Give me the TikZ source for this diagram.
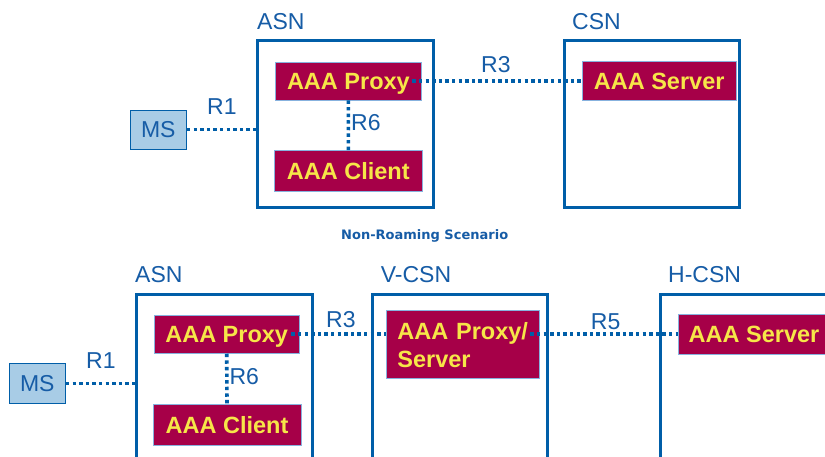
\documentclass[tikz,border=0pt]{standalone}
\usepackage{fontspec}
\setmainfont{Liberation Sans}
\newfontfamily\captionfont{DejaVu Sans}
\definecolor{netblue}{RGB}{0,94,168}
\definecolor{labelblue}{RGB}{22,92,166}
\definecolor{aaafill}{RGB}{166,0,72}
\definecolor{aaatext}{RGB}{246,230,72}
\definecolor{aaaedge}{RGB}{135,178,222}
\definecolor{msfill}{RGB}{168,204,230}
\tikzset{
  netbox/.style={draw=netblue, line width=3pt, fill=none, inner sep=0pt},
  aaabox/.style={draw=aaaedge, line width=0.8pt, fill=aaafill, text=aaatext,
    font=\fontsize{23.5}{28}\selectfont\bfseries, inner sep=0pt, text depth=0pt},
  msbox/.style={draw=netblue, line width=0.8pt, fill=msfill, text=labelblue,
    font=\fontsize{23}{27}\selectfont, inner sep=0pt, text depth=0pt},
  netlabel/.style={text=labelblue, font=\fontsize{23}{27}\selectfont, inner sep=0pt, anchor=base west},
  dotline/.style={draw=netblue, line width=3.6pt, dash pattern=on 3.4pt off 3.2pt},
}
\begin{document}
\begin{tikzpicture}[x=1pt,y=-1pt]
\useasboundingbox (0,0) rectangle (825,457);
\fill[white] (0,0) rectangle (825,457);
\clip (0,0) rectangle (825,457);

% ---------- non-roaming scenario ----------
\node[netbox, minimum width=176pt, minimum height=167pt] (asnT) at (345,124.5) {};
\node[netbox, minimum width=175pt, minimum height=167pt] (csnT) at (651.5,124.5) {};
\node[netlabel] (asnTlab) at (257,30) {ASN};
\node[netlabel] (csnTlab) at (572,30) {CSN};

\node[aaabox, minimum width=145.3pt, minimum height=37.7pt] (proxyT) at (348.4,81.2) {AAA Proxy};
\node[aaabox, minimum width=148pt, minimum height=41pt] (clientT) at (348.3,171.2) {AAA Client};
\node[aaabox, minimum width=153.7pt, minimum height=39.7pt] (serverT) at (659.2,80.9) {AAA Server};
\node[msbox, minimum width=56.7pt, minimum height=39pt] (msT) at (158.3,129.5) {MS};

\draw[dotline] (msT.east) -- (msT.east -| asnT.west);
\draw[dotline] (proxyT.south) -- (clientT.north);
\draw[dotline, shorten <=-9pt] (proxyT.east) -- (proxyT.east -| serverT.west);

\node[netlabel] (r1T) at (207,115) {R1};
\node[netlabel] (r6T) at (351,131) {R6};
\node[netlabel] (r3T) at (481,73) {R3};

\node[text=labelblue, font=\captionfont\fontsize{13}{15}\selectfont\bfseries, inner sep=0pt, anchor=base west]
  (caption) at (341,240) {Non-Roaming Scenario};

% ---------- roaming scenario ----------
\draw[netbox] (136.5,480) |- (312,294.8) -- (312,480);
\coordinate (asnBwest) at (136.5,381.7);
\draw[netbox] (372.5,480) |- (547,294.8) -- (547,480);
\draw[netbox] (660.5,480) |- (840,294.8);
\node[netlabel] (asnBlab) at (135,283) {ASN};
\node[netlabel] (vcsnlab) at (380.7,283) {V-CSN};
\node[netlabel] (hcsnlab) at (668,283) {H-CSN};

\node[aaabox, minimum width=144.7pt, minimum height=38.3pt] (proxyB) at (226.7,334.2) {AAA Proxy};
\node[aaabox, minimum width=148pt, minimum height=41.7pt] (clientB) at (227,424.8) {AAA Client};
\node[aaabox, minimum width=153pt, minimum height=67.6pt, text width=141.6pt, align=left, text depth=28pt]
  (proxyServer) at (462.5,344.5) {\hspace*{5.7pt}AAA Proxy/\\\hspace*{5.7pt}Server};
\node[aaabox, minimum width=156.7pt, minimum height=39.7pt, anchor=west] (serverB) at (678.3,334.2) {\hspace*{-3pt}AAA Server\hspace*{3pt}};
\node[msbox, minimum width=56.7pt, minimum height=40pt] (msB) at (37.3,383.5) {MS};

\draw[dotline] (msB.east) -- (msB.east -| asnBwest);
\draw[dotline] (proxyB.south) -- (clientB.north);
\draw[dotline, shorten <=-8pt] (proxyB.east) -- (proxyB.east -| proxyServer.west);
\draw[dotline, shorten <=-9pt] (proxyServer.east |- serverB.west) -- (serverB.west);

\node[netlabel] (r1B) at (86,368) {R1};
\node[netlabel] (r6B) at (229.3,384) {R6};
\node[netlabel] (r3B) at (326,327) {R3};
\node[netlabel] (r5B) at (590.7,329) {R5};
\end{tikzpicture}
\end{document}
